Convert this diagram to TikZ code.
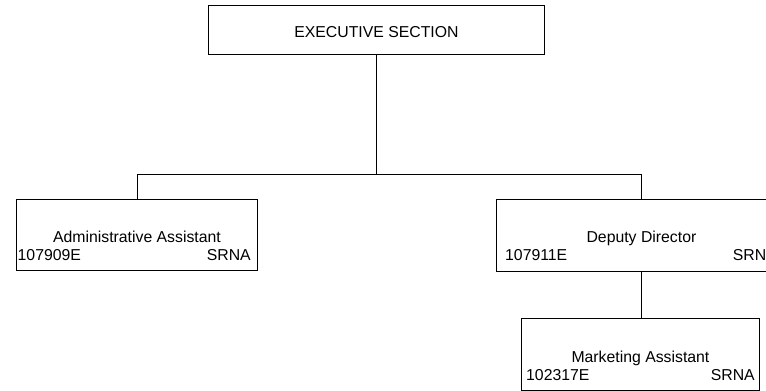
\documentclass[tikz,border=0pt]{standalone}
\usepackage{fontspec}
\setmainfont{Liberation Sans}
\tikzset{
  unitbox/.style={draw, line width=0.9pt, inner sep=0pt, anchor=north west},
  unitname/.style={anchor=base, inner sep=0pt},
  unitcode/.style={anchor=base west, inner sep=0pt},
  unitgrade/.style={anchor=base east, inner sep=0pt},
  link/.style={line width=0.9pt},
}
\begin{document}
\begin{tikzpicture}
  \fontsize{15.8pt}{18pt}\selectfont
  \useasboundingbox (0pt,0pt) rectangle (766pt,-391pt);

  \node[unitbox, minimum width=336pt, minimum height=49pt] (exec) at (208pt,-5pt) {};
  \node[unitname] (exec-title) at ([yshift=17.5pt]exec.south) {EXECUTIVE SECTION};

  \node[unitbox, minimum width=241pt, minimum height=71pt] (admin) at (16pt,-199pt) {};
  \node[unitname]  (admin-title) at ([yshift=28.3pt]admin.south) {Administrative Assistant};
  \node[unitcode]  (admin-code)  at ([xshift=1.5pt,yshift=10pt]admin.south west) {107909E};
  \node[unitgrade] (admin-grade) at ([xshift=-7pt,yshift=10pt]admin.south east) {SRNA};

  \node[unitbox, minimum width=290pt, minimum height=72pt] (deputy) at (496pt,-199pt) {};
  \node[unitname]  (deputy-title) at ([yshift=29.3pt]deputy.south) {Deputy Director};
  \node[unitcode]  (deputy-code)  at ([xshift=9pt,yshift=11pt]deputy.south west) {107911E};
  \node[unitgrade] (deputy-grade) at ([xshift=-10pt,yshift=11pt]deputy.south east) {SRNA};

  \node[unitbox, minimum width=238pt, minimum height=72pt] (market) at (521pt,-318pt) {};
  \node[unitname]  (market-title) at ([yshift=28.3pt]market.south) {Marketing Assistant};
  \node[unitcode]  (market-code)  at ([xshift=5pt,yshift=10pt]market.south west) {102317E};
  \node[unitgrade] (market-grade) at ([xshift=-5pt,yshift=10pt]market.south east) {SRNA};

  % reporting lines
  \coordinate (bus) at (exec.south |- 0pt,-174pt);
  \draw[link] (exec.south) -- (bus);
  \draw[link] (admin.north) |- (bus);
  \draw[link] (deputy.north) |- (bus);
  \draw[link] (deputy.south) -- (deputy.south |- market.north);
\end{tikzpicture}
\end{document}
